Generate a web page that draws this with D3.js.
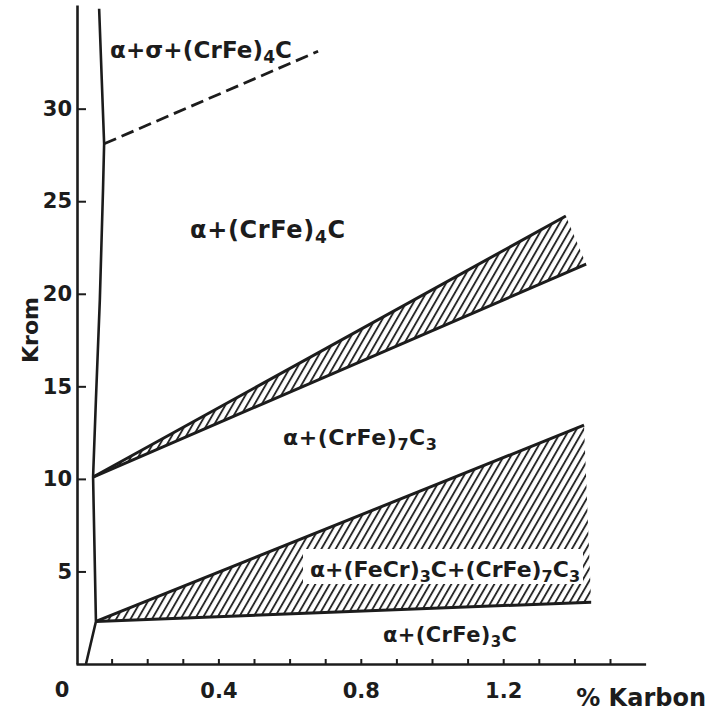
<!DOCTYPE html>
<html>
<head>
<meta charset="utf-8">
<script src="https://cdn.jsdelivr.net/npm/d3@7"></script>
<style>
	html, body { margin: 0; padding: 0; background: #fff; }
	svg { display: block; }
	text { font-family: "DejaVu Sans", Arial, sans-serif; font-weight: bold; fill: #1c1c1c; }
</style>
</head>
<body>
<div class="container"></div>
<script>
// solvus line (alpha / alpha + carbide), % C vs % Cr
var solvusC  = [0.028, 0.056, 0.048, 0.056, 0.067, 0.076, 0.079, 0.065];
var solvusCr = [0, 2.3, 10.1, 14.3, 19.7, 25.7, 28.1, 35.4];

// upper hatched band: (CrFe)4C + (CrFe)7C3
var band1TopC = [0.048, 1.376], band1TopCr = [10.1, 24.2];
var band1BotC = [0.048, 1.433], band1BotCr = [10.1, 21.6];

// lower hatched wedge: (FeCr)3C + (CrFe)7C3
var band2TopC = [0.056, 1.427], band2TopCr = [2.3, 12.9];
var band2BotC = [0.056, 1.447], band2BotCr = [2.3, 3.34];

// dashed sigma boundary
var sigmaC = [0.079, 0.680], sigmaCr = [28.1, 33.1];

// ticks
var yTicks = [5, 10, 15, 20, 25, 30];
var xMinorTicks = [0.1, 0.2, 0.3, 0.4, 0.5, 0.6, 0.7, 0.8, 0.9, 1.0, 1.1, 1.2, 1.3, 1.4, 1.5];
var xTickLabels = [0.4, 0.8, 1.2];

var W = 708, H = 719;
var ink = "#1c1c1c";

var svg = d3.select('.container').append("svg")
	.attr("width", W)
	.attr("height", H);

var x = d3.scaleLinear().domain([0, 1.6]).range([76, 645.6]);
var y = d3.scaleLinear().domain([0, 35.6]).range([664, 5]);

// hatch pattern
var defs = svg.append("defs");
defs.append("pattern")
	.attr("id", "hatch")
	.attr("patternUnits", "userSpaceOnUse")
	.attr("width", 6.2)
	.attr("height", 10)
	.attr("patternTransform", "rotate(30)")
	.append("line")
		.attr("x1", 1).attr("y1", 0)
		.attr("x2", 1).attr("y2", 10)
		.attr("stroke", ink)
		.attr("stroke-width", 1.8);

function pts (cs, crs) {
	return cs.map(function (c, i) { return [c, crs[i]]; });
}

var line = d3.line()
	.x(function (d) { return x(d[0]); })
	.y(function (d) { return y(d[1]); });

// hatched areas
function band (topC, topCr, botC, botCr) {
	var top = pts(topC, topCr);
	var bot = pts(botC, botCr).reverse();
	svg.append("path")
		.attr("d", line(top.concat(bot)) + "Z")
		.attr("fill", "url(#hatch)");
	[top, bot].forEach(function (p) {
		svg.append("path")
			.attr("d", line(p))
			.attr("fill", "none")
			.attr("stroke", ink)
			.attr("stroke-width", 3);
	});
}
band(band1TopC, band1TopCr, band1BotC, band1BotCr);
band(band2TopC, band2TopCr, band2BotC, band2BotCr);

// solvus
svg.append("path")
	.attr("d", line(pts(solvusC, solvusCr)))
	.attr("fill", "none")
	.attr("stroke", ink)
	.attr("stroke-width", 2.6)
	.attr("stroke-linejoin", "round");

// dashed line
svg.append("path")
	.attr("d", line(pts(sigmaC, sigmaCr)))
	.attr("fill", "none")
	.attr("stroke", ink)
	.attr("stroke-width", 2.8)
	.attr("stroke-dasharray", "13,6");

// axes
var yAxis = d3.axisLeft(y)
	.tickValues(yTicks)
	.tickSizeInner(-9)
	.tickSizeOuter(0)
	.tickPadding(5);

var gy = svg.append("g")
	.attr("transform", "translate(" + (x(0) + 1) + ",0)")
	.call(yAxis);

var xAxis = d3.axisBottom(x)
	.tickValues(xMinorTicks)
	.tickSizeInner(-5)
	.tickSizeOuter(0)
	.tickPadding(19)
	.tickFormat(function (d) {
		return xTickLabels.indexOf(d) >= 0 ? d3.format(".1f")(d) : "";
	});

var gx = svg.append("g")
	.attr("transform", "translate(0," + y(0) + ")")
	.call(xAxis);

[gx, gy].forEach(function (g) {
	g.selectAll("path.domain").attr("stroke", ink).attr("stroke-width", 2.6);
	g.selectAll(".tick line").attr("stroke", ink).attr("stroke-width", 2);
	g.selectAll(".tick text")
		.style("font-family", '"DejaVu Sans", Arial, sans-serif')
		.style("font-weight", "bold")
		.style("font-size", "21px")
		.attr("fill", ink);
});

svg.append("text")
	.attr("x", 62).attr("y", 697)
	.attr("text-anchor", "middle")
	.style("font-size", "21px")
	.text("0");

// axis titles
svg.append("text")
	.attr("transform", "translate(38,330) rotate(-90)")
	.attr("text-anchor", "middle")
	.style("font-size", "22px")
	.text("Krom");

svg.append("text")
	.attr("x", 706).attr("y", 706)
	.attr("text-anchor", "end")
	.style("font-size", "24px")
	.text("% Karbon");

// white box behind the wedge label
svg.append("rect")
	.attr("x", 303).attr("y", 549)
	.attr("width", 280).attr("height", 35)
	.attr("fill", "#fff");

// phase labels
function label (parts, px, py, len, fs) {
	var t = svg.append("text")
		.attr("x", px).attr("y", py)
		.style("font-size", fs + "px");
	var shifted = false;
	parts.forEach(function (p) {
		var s = t.append("tspan").text(p[0]);
		if (p[1]) {
			s.style("font-size", Math.round(fs * 0.72) + "px").attr("dy", shifted ? 0 : 5);
			shifted = true;
		} else if (shifted) {
			s.attr("dy", -5);
			shifted = false;
		}
	});
	// stretch a little when the natural width falls short of the original
	if (t.node().getComputedTextLength() < len) {
		t.attr("textLength", len).attr("lengthAdjust", "spacing");
	}
}

label([["\u03b1+\u03c3+(CrFe)"], ["4", 1], ["C"]], 110, 58, 182, 23);
label([["\u03b1+(CrFe)"], ["4", 1], ["C"]], 190, 238, 155, 24);
label([["\u03b1+(CrFe)"], ["7", 1], ["C"], ["3", 1]], 283, 445, 154, 22);
label([["\u03b1+(FeCr)"], ["3", 1], ["C+(CrFe)"], ["7", 1], ["C"], ["3", 1]], 310, 577, 270, 22);
label([["\u03b1+(CrFe)"], ["3", 1], ["C"]], 383, 642, 134, 21);
</script>
</body>
</html>
